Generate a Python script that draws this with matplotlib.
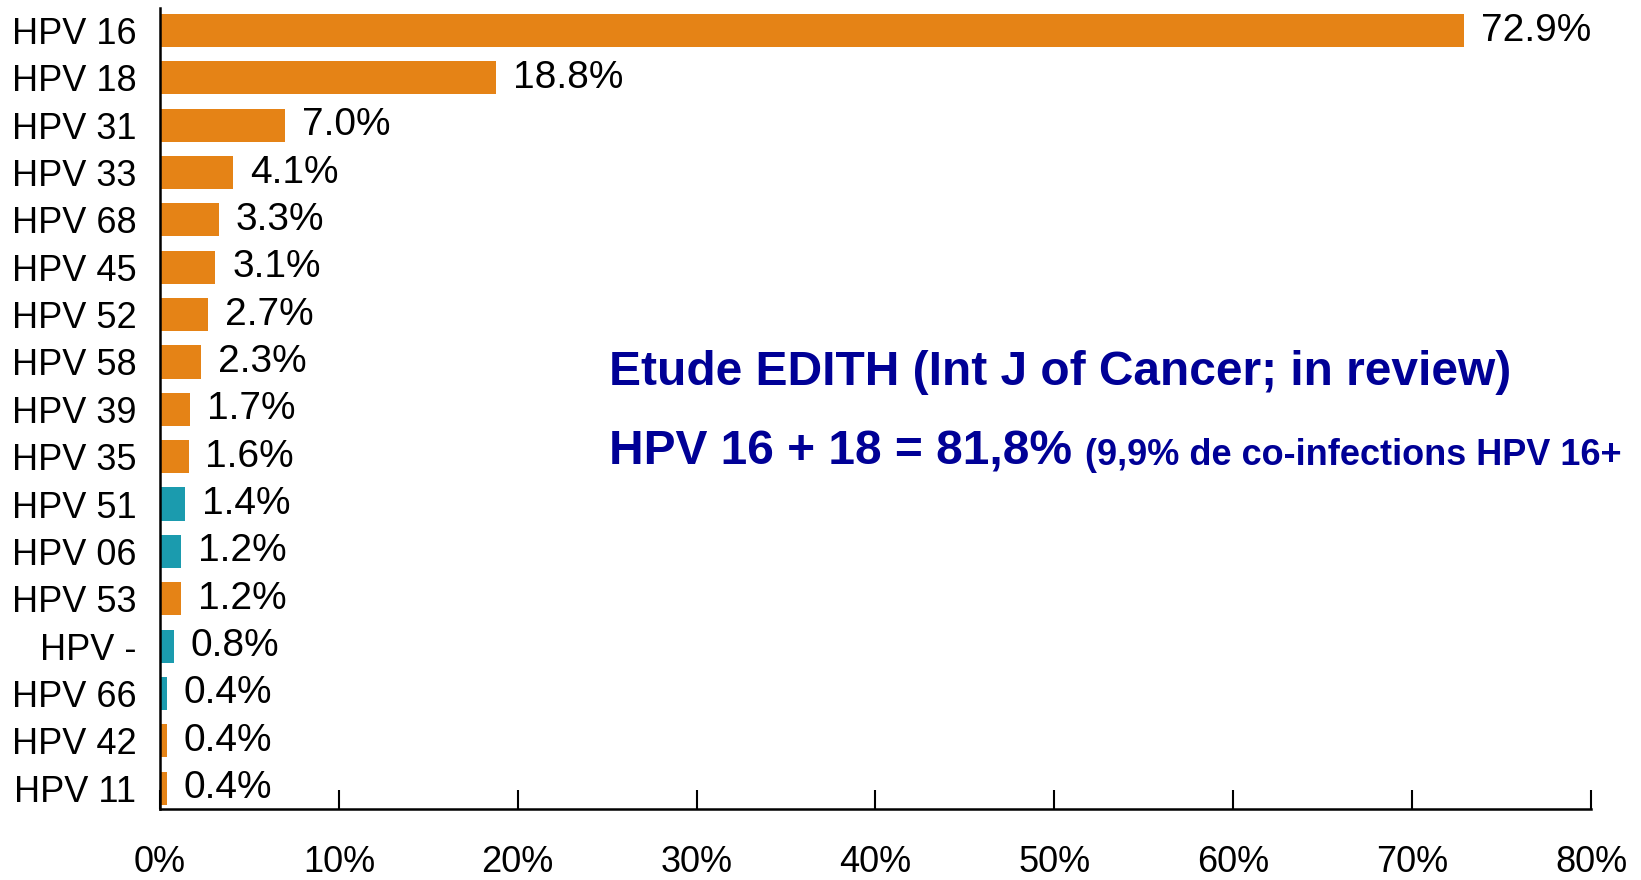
import matplotlib
matplotlib.use("Agg")
import matplotlib.pyplot as plt
from matplotlib.ticker import FuncFormatter

types = ['HPV 16', 'HPV 18', 'HPV 31', 'HPV 33', 'HPV 68', 'HPV 45', 'HPV 52', 'HPV 58',
         'HPV 39', 'HPV 35', 'HPV 51', 'HPV 06', 'HPV 53', 'HPV -', 'HPV 66', 'HPV 42', 'HPV 11']
pct = [72.9, 18.8, 7.0, 4.1, 3.3, 3.1, 2.7, 2.3, 1.7, 1.6, 1.4, 1.2, 1.2, 0.8, 0.4, 0.4, 0.4]
teal_types = ['HPV 51', 'HPV 06', 'HPV -', 'HPV 66']
xticks = [0, 10, 20, 30, 40, 50, 60, 70, 80]

ORANGE = '#E58316'
TEAL = '#1B9BAE'
BLUE = '#000096'

plt.rcParams['font.family'] = ['Liberation Sans', 'DejaVu Sans']

fig = plt.figure(figsize=(16.41, 8.80), dpi=100)
ax = fig.add_axes([0.0975, 0.0807, 0.872, 0.9102])

colors = [TEAL if t in teal_types else ORANGE for t in types]
ypos = list(range(len(types)))
ax.barh(ypos, pct, height=0.70, color=colors)

# value labels right of each bar
for y, v in zip(ypos, pct):
    ax.annotate(f'{v:.1f}%', (v, y), xytext=(12, 0), textcoords='offset points',
                va='center', ha='left', fontsize=28)

ax.set_xlim(0, 80)
ax.set_ylim(16.44, -0.475)
ax.set_yticks(ypos)
ax.set_yticklabels(types, fontsize=26)
ax.set_xticks(xticks)
ax.xaxis.set_major_formatter(FuncFormatter(lambda x, p: f'{x:.0f}%'))
ax.tick_params(axis='x', direction='in', length=14, width=1.5, labelsize=26, pad=26)
ax.tick_params(axis='y', length=0, pad=17)

for s in ['top', 'right']:
    ax.spines[s].set_visible(False)
ax.spines['left'].set_linewidth(1.8)
ax.spines['bottom'].set_linewidth(1.8)

narrow = ['Liberation Sans Narrow', 'Liberation Sans']
fig.text(0.371, 0.577, 'Etude EDITH (Int J of Cancer; in review)', color=BLUE,
         fontsize=34.5, fontweight='bold', family=narrow, va='center', ha='left')
t2 = fig.text(0.371, 0.486, 'HPV 16 + 18 = 81,8%', color=BLUE,
              fontsize=34.5, fontweight='bold', family=narrow, va='center', ha='left')
fig.canvas.draw()
bb = t2.get_window_extent()
fig.text((bb.x1 + 13) / fig.bbox.width, 0.486 - 0.004, '(9,9% de co-infections HPV 16+',
         color=BLUE, fontsize=26, fontweight='bold', family=narrow, va='center', ha='left')

fig.savefig('out.png', dpi=100)
